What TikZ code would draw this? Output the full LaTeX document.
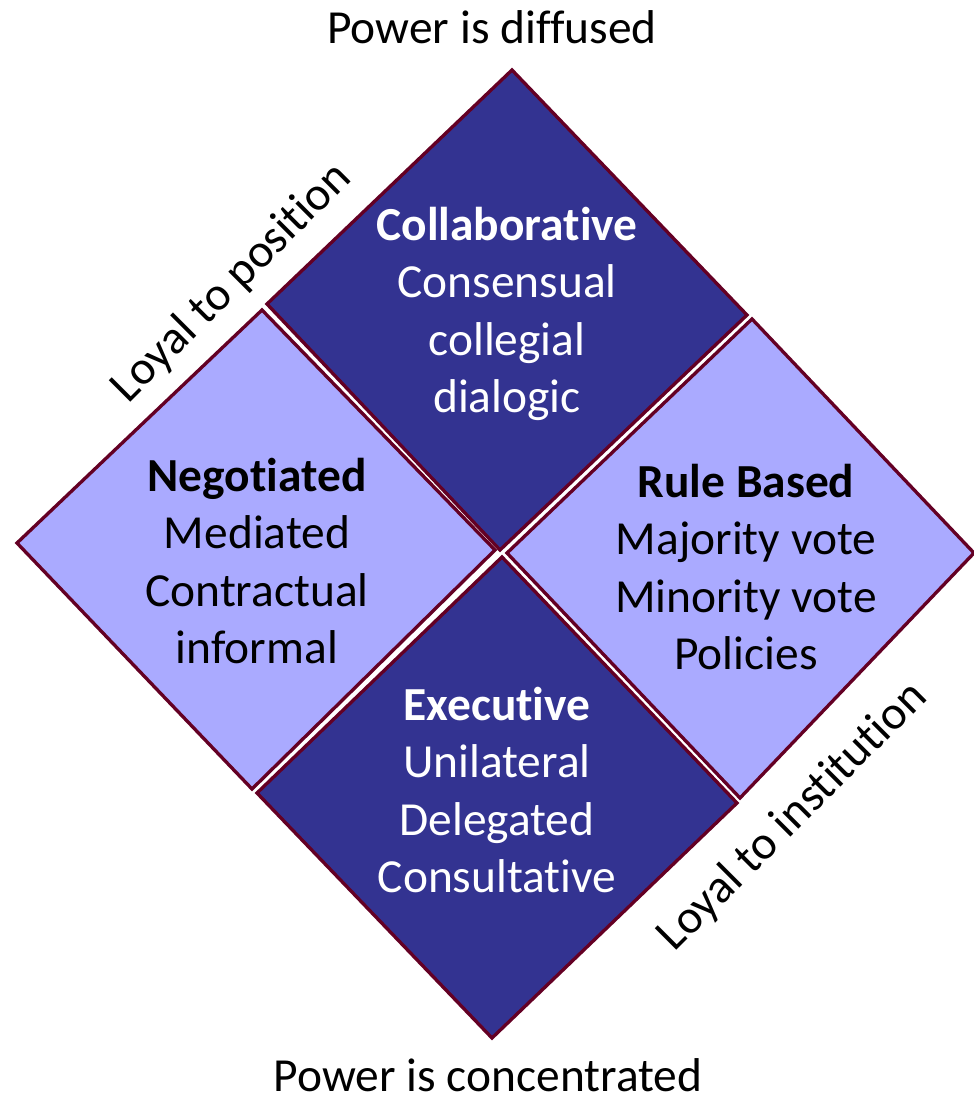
\documentclass[tikz,border=0pt]{standalone}
\usepackage{fontspec}
\setmainfont[Ligatures=NoCommon]{Carlito}
\usetikzlibrary{positioning}
\definecolor{darkq}{RGB}{51,51,145}
\definecolor{lightq}{RGB}{170,170,255}
\definecolor{edgeq}{RGB}{100,0,36}
\tikzset{
  quad/.style={draw=edgeq,line width=1.9pt,line join=miter},
  lbl/.style={font=\fontsize{27}{32.6}\selectfont,align=center,inner sep=0pt},
}
\begin{document}
\begin{tikzpicture}[line cap=round,line join=round,x=0.02cm,y=-0.02cm]
\useasboundingbox (0,0) rectangle (974,1096);
% the four quadrants
\draw[quad,fill=darkq] (512,70) -- (747,315) -- (500,550) -- (267,304) -- cycle;
\draw[quad,fill=lightq] (262,310) -- (495,550) -- (252,789) -- (17,543) -- cycle;
\draw[quad,fill=lightq] (752,319) -- (974,553) -- (740,798) -- (507,553) -- cycle;
\draw[quad,fill=darkq] (502,557) -- (737,803) -- (492,1038) -- (257,793) -- cycle;
% texts
\node[lbl,text=white] (collab) at (507,314) {\textbf{Collaborative}\\Consensual\\collegial\\dialogic};
\node[lbl] (negot) at (257,561) {\textbf{Negotiated}\\Mediated\\Contractual\\informal};
\node[lbl] (rule) at (746,567) {\textbf{Rule Based}\\Majority vote\\Minority vote\\Policies};
\node[lbl,text=white] (exec) at (497,790) {\textbf{Executive}\\Unilateral\\Delegated\\Consultative};
\node[lbl,anchor=base] (diffused) at (492,43) {Power is diffused};
\node[lbl,anchor=base] (concentr) at (488,1091) {Power is concentrated};
\node[lbl,rotate=45] (position) at (232,283) {Loyal to position};
\node[lbl,rotate=45] (institution) at (793,817) {Loyal to institution};
\end{tikzpicture}
\end{document}
